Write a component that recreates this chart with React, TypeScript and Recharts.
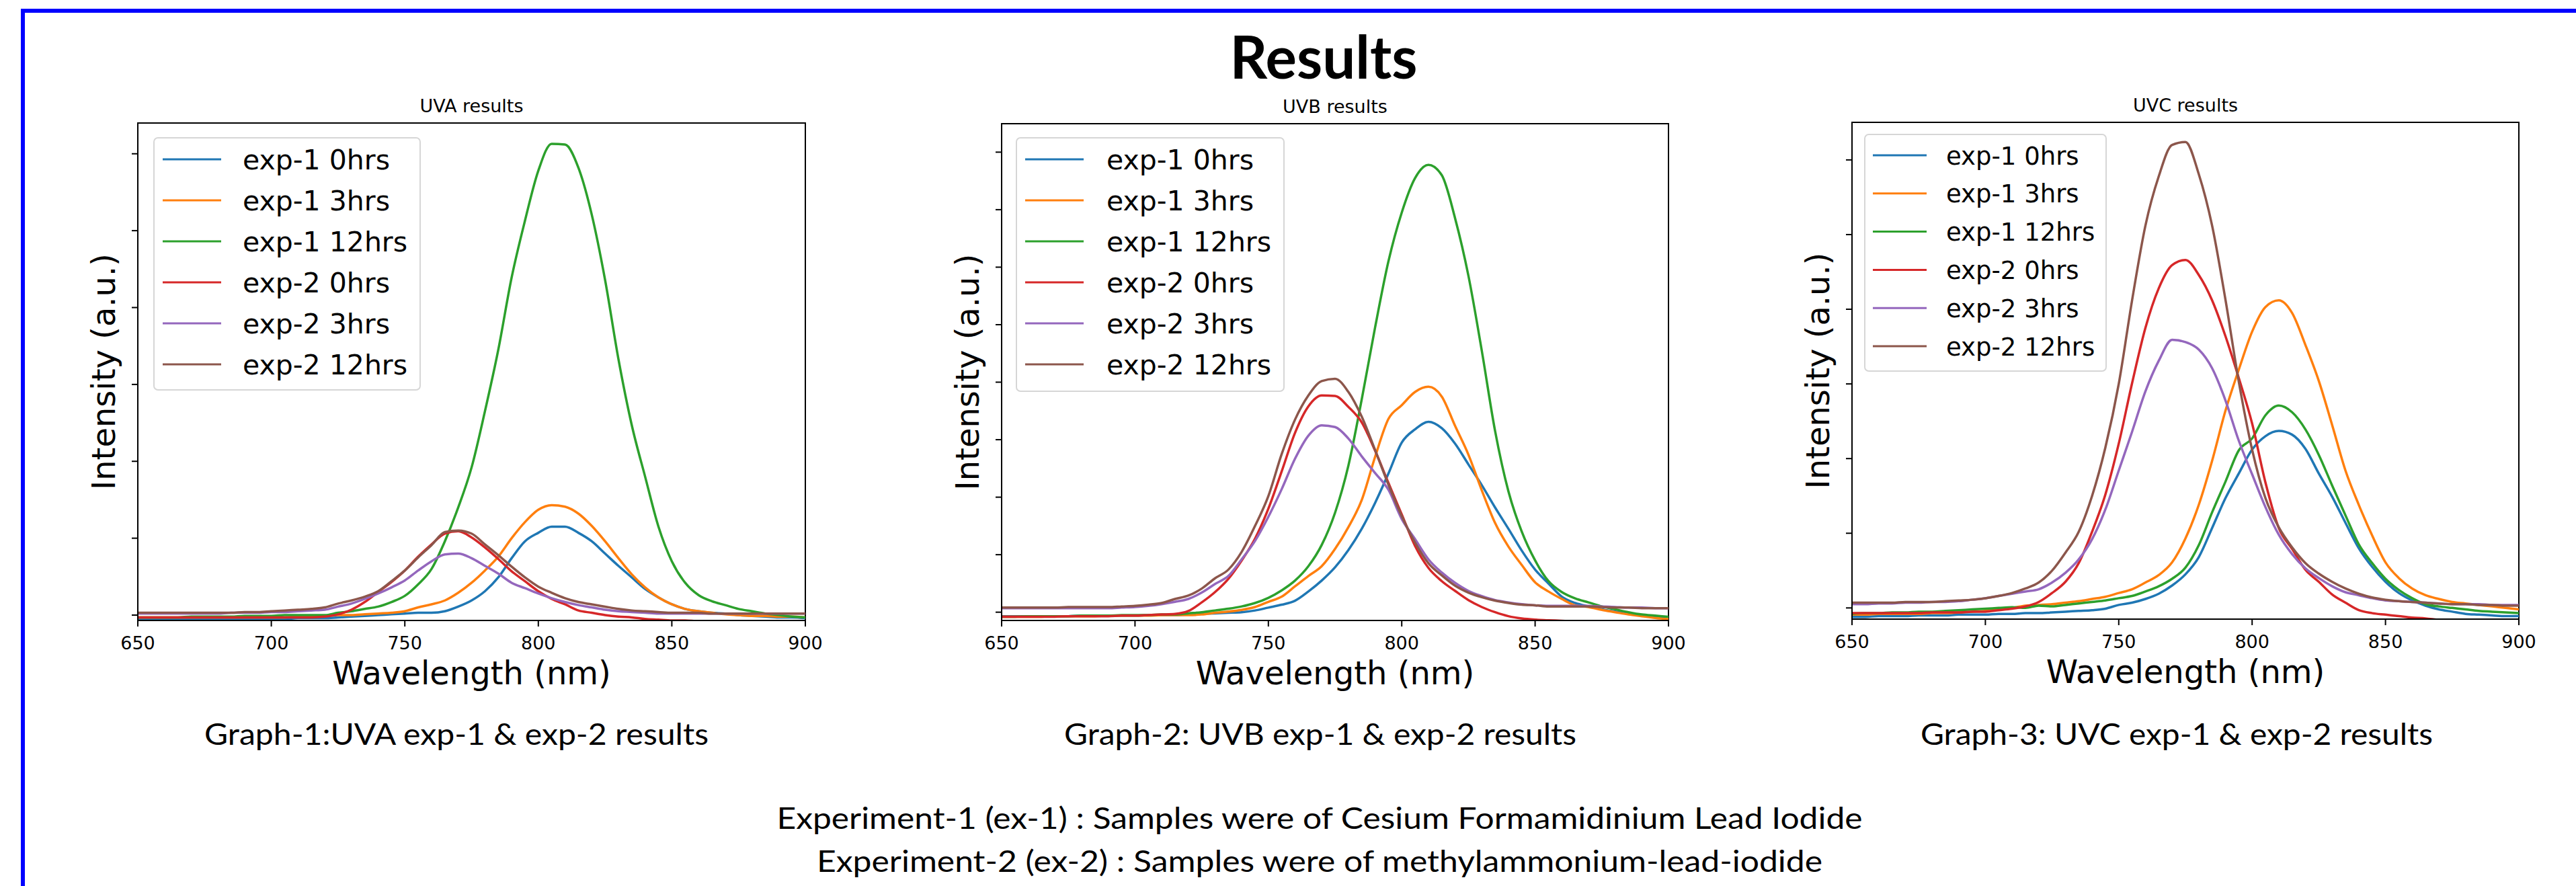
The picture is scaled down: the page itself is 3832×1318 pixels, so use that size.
import { LineChart, Line, XAxis, YAxis, ReferenceArea } from 'recharts';

// wavelength grid (nm) every 5 nm
const WAVELENGTHS = [
  650, 655, 660, 665, 670, 675, 680, 685, 690, 695,
  700, 705, 710, 715, 720, 725, 730, 735, 740, 745,
  750, 755, 760, 765, 770, 775, 780, 785, 790, 795,
  800, 805, 810, 815, 820, 825, 830, 835, 840, 845,
  850, 855, 860, 865, 870, 875, 880, 885, 890, 895,
  900,
];
const X_TICKS = [650, 700, 750, 800, 850, 900];

const SERIES_NAMES = ['exp-1 0hrs', 'exp-1 3hrs', 'exp-1 12hrs', 'exp-2 0hrs', 'exp-2 3hrs', 'exp-2 12hrs'];
const COLORS = ['#1f77b4', '#ff7f0e', '#2ca02c', '#d62728', '#9467bd', '#8c564b'];

// ---- UVA ----
const UVA_E1_0H = [
  -0.05, -0.05, -0.05, -0.05, -0.05, -0.05, -0.05, -0.05, -0.05, -0.05,
  -0.05, -0.05, -0.04, -0.04, -0.04, -0.03, -0.02, -0.01, 0.0, 0.01,
  0.02, 0.03, 0.03, 0.05, 0.11, 0.19, 0.31, 0.49, 0.74, 0.96,
  1.07, 1.15, 1.15, 1.07, 0.96, 0.8, 0.64, 0.49, 0.34, 0.23,
  0.14, 0.08, 0.05, 0.03, 0.02, 0.0, -0.01, -0.02, -0.03, -0.03,
  -0.04,
];
const UVA_E1_3H = [
  -0.03, -0.03, -0.03, -0.03, -0.03, -0.03, -0.03, -0.03, -0.03, -0.03,
  -0.03, -0.03, -0.02, -0.02, -0.01, 0.0, 0.0, 0.01, 0.02, 0.03,
  0.05, 0.1, 0.14, 0.19, 0.29, 0.42, 0.58, 0.76, 1.0, 1.21,
  1.37, 1.43, 1.41, 1.32, 1.16, 0.96, 0.74, 0.53, 0.36, 0.23,
  0.14, 0.08, 0.05, 0.03, 0.01, 0.0, -0.01, -0.01, -0.02, -0.02,
  -0.03,
];
const UVA_E1_12H = [
  -0.03, -0.03, -0.03, -0.03, -0.02, -0.02, -0.02, -0.02, -0.01, -0.01,
  -0.01, 0.0, 0.0, 0.0, 0.0, 0.03, 0.05, 0.08, 0.11, 0.17,
  0.25, 0.4, 0.6, 0.96, 1.4, 1.92, 2.65, 3.45, 4.39, 5.13,
  5.78, 6.13, 6.12, 5.82, 5.21, 4.36, 3.33, 2.47, 1.8, 1.15,
  0.7, 0.42, 0.26, 0.18, 0.13, 0.08, 0.05, 0.02, 0.0, -0.02,
  -0.03,
];
const UVA_E2_0H = [
  -0.03, -0.03, -0.03, -0.03, -0.03, -0.03, -0.03, -0.03, -0.03, -0.03,
  -0.03, -0.03, -0.03, -0.03, -0.02, 0.01, 0.07, 0.17, 0.3, 0.43,
  0.58, 0.76, 0.92, 1.06, 1.09, 1.01, 0.88, 0.73, 0.57, 0.44,
  0.31, 0.21, 0.14, 0.06, 0.03, 0.0, -0.02, -0.03, -0.05, -0.06,
  -0.07, -0.07, -0.08, -0.08, -0.08, -0.08, -0.09, -0.09, -0.09, -0.09,
  -0.09,
];
const UVA_E2_3H = [
  0.02, 0.02, 0.02, 0.02, 0.02, 0.02, 0.02, 0.03, 0.03, 0.03,
  0.04, 0.04, 0.05, 0.06, 0.07, 0.11, 0.15, 0.21, 0.28, 0.36,
  0.45, 0.58, 0.7, 0.79, 0.8, 0.74, 0.64, 0.54, 0.42, 0.35,
  0.28, 0.22, 0.17, 0.13, 0.1, 0.07, 0.05, 0.04, 0.03, 0.02,
  0.02, 0.02, 0.02, 0.02, 0.02, 0.02, 0.02, 0.02, 0.02, 0.02,
  0.02,
];
const UVA_E2_12H = [
  0.03, 0.03, 0.03, 0.03, 0.03, 0.03, 0.03, 0.03, 0.04, 0.04,
  0.05, 0.06, 0.07, 0.08, 0.1, 0.15, 0.19, 0.24, 0.31, 0.44,
  0.58, 0.75, 0.91, 1.08, 1.1, 1.06, 0.92, 0.78, 0.63, 0.49,
  0.37, 0.29, 0.22, 0.17, 0.14, 0.11, 0.08, 0.06, 0.05, 0.04,
  0.03, 0.03, 0.03, 0.02, 0.02, 0.02, 0.02, 0.02, 0.02, 0.02,
  0.02,
];

// ---- UVB ----
const UVB_E1_0H = [
  -0.07, -0.07, -0.07, -0.07, -0.07, -0.07, -0.06, -0.06, -0.06, -0.06,
  -0.06, -0.05, -0.05, -0.05, -0.04, -0.03, -0.02, -0.01, 0.0, 0.03,
  0.08, 0.13, 0.2, 0.36, 0.55, 0.78, 1.08, 1.45, 1.9, 2.41,
  2.95, 3.18, 3.31, 3.2, 2.93, 2.57, 2.21, 1.82, 1.45, 1.07,
  0.74, 0.5, 0.27, 0.16, 0.1, 0.05, 0.01, -0.02, -0.05, -0.08,
  -0.1,
];
const UVB_E1_3H = [
  -0.08, -0.08, -0.08, -0.08, -0.07, -0.07, -0.07, -0.07, -0.06, -0.06,
  -0.06, -0.06, -0.05, -0.05, -0.05, -0.04, -0.01, 0.01, 0.04, 0.09,
  0.18, 0.27, 0.45, 0.63, 0.8, 1.1, 1.48, 1.95, 2.7, 3.36,
  3.6, 3.83, 3.92, 3.75, 3.24, 2.74, 2.12, 1.55, 1.14, 0.82,
  0.52, 0.36, 0.23, 0.12, 0.09, 0.04, 0.0, -0.04, -0.07, -0.1,
  -0.12,
];
const UVB_E1_12H = [
  -0.08, -0.08, -0.07, -0.07, -0.07, -0.07, -0.06, -0.06, -0.06, -0.05,
  -0.05, -0.05, -0.04, -0.04, -0.02, 0.0, 0.03, 0.06, 0.1, 0.16,
  0.25, 0.38, 0.55, 0.8, 1.17, 1.73, 2.55, 3.7, 4.95, 6.1,
  6.95, 7.55, 7.78, 7.6, 6.85, 5.85, 4.55, 3.15, 2.1, 1.4,
  0.9, 0.54, 0.35, 0.24, 0.17, 0.1, 0.05, 0.0, -0.04, -0.06,
  -0.08,
];
const UVB_E2_0H = [
  -0.08, -0.08, -0.08, -0.08, -0.08, -0.07, -0.07, -0.07, -0.07, -0.06,
  -0.06, -0.05, -0.04, -0.03, 0.02, 0.17, 0.35, 0.58, 0.9, 1.28,
  1.8, 2.45, 3.12, 3.58, 3.77, 3.76, 3.57, 3.3, 2.81, 2.25,
  1.7, 1.15, 0.77, 0.54, 0.37, 0.21, 0.09, 0.0, -0.07, -0.11,
  -0.13, -0.14, -0.15, -0.16, -0.17, -0.17, -0.18, -0.18, -0.18, -0.18,
  -0.18,
];
const UVB_E2_3H = [
  0.07, 0.07, 0.07, 0.07, 0.07, 0.07, 0.07, 0.07, 0.07, 0.08,
  0.09, 0.11, 0.14, 0.18, 0.23, 0.34, 0.49, 0.63, 0.92, 1.24,
  1.66, 2.14, 2.67, 3.07, 3.25, 3.22, 3.02, 2.71, 2.42, 2.13,
  1.62, 1.27, 0.92, 0.69, 0.51, 0.37, 0.28, 0.21, 0.17, 0.14,
  0.12, 0.11, 0.11, 0.11, 0.11, 0.1, 0.09, 0.08, 0.08, 0.07,
  0.07,
];
const UVB_E2_12H = [
  0.08, 0.08, 0.08, 0.08, 0.08, 0.09, 0.09, 0.09, 0.09, 0.1,
  0.11, 0.13, 0.16, 0.23, 0.29, 0.41, 0.59, 0.74, 1.05, 1.5,
  2.02, 2.75, 3.35, 3.77, 4.02, 4.06, 3.83, 3.4, 2.82, 2.22,
  1.67, 1.21, 0.85, 0.64, 0.46, 0.34, 0.26, 0.2, 0.16, 0.13,
  0.12, 0.1, 0.1, 0.1, 0.1, 0.09, 0.08, 0.08, 0.07, 0.07,
  0.07,
];

// ---- UVC ----
const UVC_E1_0H = [
  -0.12, -0.12, -0.11, -0.11, -0.11, -0.1, -0.1, -0.1, -0.09, -0.09,
  -0.09, -0.08, -0.08, -0.07, -0.07, -0.06, -0.05, -0.04, -0.03, -0.01,
  0.04, 0.07, 0.12, 0.19, 0.3, 0.45, 0.68, 1.07, 1.47, 1.8,
  2.12, 2.3, 2.37, 2.32, 2.13, 1.8, 1.49, 1.14, 0.8, 0.55,
  0.35, 0.2, 0.1, 0.03, -0.02, -0.05, -0.08, -0.09, -0.1, -0.11,
  -0.11,
];
const UVC_E1_3H = [
  -0.09, -0.09, -0.08, -0.08, -0.08, -0.08, -0.07, -0.07, -0.06, -0.05,
  -0.04, -0.02, 0.0, 0.03, 0.04, 0.05, 0.07, 0.09, 0.12, 0.15,
  0.2, 0.25, 0.34, 0.44, 0.61, 0.93, 1.38, 1.97, 2.64, 3.19,
  3.7, 4.03, 4.12, 3.95, 3.52, 3.04, 2.45, 1.84, 1.38, 0.97,
  0.61, 0.4, 0.26, 0.17, 0.12, 0.08, 0.06, 0.04, 0.02, 0.0,
  -0.02,
];
const UVC_E1_12H = [
  -0.08, -0.07, -0.07, -0.06, -0.06, -0.05, -0.05, -0.04, -0.03, -0.02,
  -0.01, 0.0, 0.01, 0.0, 0.03, 0.02, 0.04, 0.06, 0.08, 0.1,
  0.13, 0.16, 0.22, 0.29, 0.39, 0.54, 0.84, 1.28, 1.69, 2.11,
  2.27, 2.58, 2.71, 2.62, 2.39, 2.05, 1.64, 1.24, 0.85, 0.6,
  0.39, 0.24, 0.13, 0.05, 0.02, 0.0, -0.02, -0.04, -0.05, -0.06,
  -0.07,
];
const UVC_E2_0H = [
  -0.07, -0.07, -0.07, -0.07, -0.07, -0.07, -0.06, -0.06, -0.06, -0.05,
  -0.05, -0.03, -0.01, 0.02, 0.08, 0.2, 0.35, 0.6, 1.02, 1.52,
  2.2, 3.01, 3.75, 4.28, 4.59, 4.66, 4.46, 4.12, 3.64, 3.08,
  2.47, 1.68, 1.07, 0.79, 0.51, 0.35, 0.18, 0.07, -0.03, -0.07,
  -0.09, -0.11, -0.13, -0.14, -0.16, -0.17, -0.17, -0.18, -0.18, -0.18,
  -0.18,
];
const UVC_E2_3H = [
  0.05, 0.05, 0.06, 0.06, 0.07, 0.07, 0.08, 0.08, 0.09, 0.11,
  0.13, 0.16, 0.19, 0.22, 0.25, 0.34, 0.47, 0.65, 0.92, 1.32,
  1.84, 2.36, 2.9, 3.31, 3.59, 3.56, 3.46, 3.21, 2.78, 2.24,
  1.79, 1.35, 0.98, 0.72, 0.53, 0.4, 0.29, 0.21, 0.17, 0.13,
  0.1, 0.09, 0.08, 0.07, 0.06, 0.05, 0.05, 0.05, 0.04, 0.04,
  0.04,
];
const UVC_E2_12H = [
  0.07, 0.07, 0.07, 0.07, 0.08, 0.08, 0.08, 0.09, 0.1, 0.11,
  0.13, 0.16, 0.2, 0.26, 0.34, 0.5, 0.74, 1.02, 1.5, 2.15,
  3.0, 4.12, 5.12, 5.78, 6.2, 6.24, 5.81, 5.12, 4.13, 3.03,
  2.12, 1.47, 1.08, 0.81, 0.6, 0.46, 0.35, 0.26, 0.19, 0.14,
  0.11, 0.09, 0.08, 0.07, 0.06, 0.05, 0.05, 0.04, 0.04, 0.03,
  0.03,
];

const MPL_FONT = "'DejaVu Sans', sans-serif";
const SLIDE_FONT = "Lato, 'Open Sans', sans-serif";

const PANELS = [
  {
    title: 'UVA results',
    caption: 'Graph-1:UVA exp-1 & exp-2 results',
    series: [UVA_E1_0H, UVA_E1_3H, UVA_E1_12H, UVA_E2_0H, UVA_E2_3H, UVA_E2_12H],
    yDomain: [-0.07, 6.4],
    yTicks: [0, 1, 2, 3, 4, 5, 6],
    plot: { left: 205, top: 183, width: 993, height: 740 },
    legend: { dx: 24, dy: 22, w: 396, h: 375, font: 41, row0: 32, gap: 61, s0: 13, s1: 100, tx: 132 },
    captionBox: { cx: 679, w: 750 },
  },
  {
    title: 'UVB results',
    caption: 'Graph-2: UVB exp-1 & exp-2 results',
    series: [UVB_E1_0H, UVB_E1_3H, UVB_E1_12H, UVB_E2_0H, UVB_E2_3H, UVB_E2_12H],
    yDomain: [-0.144, 8.495],
    yTicks: [0, 1, 2, 3, 4, 5, 6, 7, 8],
    plot: { left: 1490, top: 184, width: 992, height: 739 },
    legend: { dx: 22, dy: 21, w: 398, h: 377, font: 41, row0: 32, gap: 61, s0: 13, s1: 100, tx: 134 },
    captionBox: { cx: 1964, w: 762 },
  },
  {
    title: 'UVC results',
    caption: 'Graph-3: UVC exp-1 & exp-2 results',
    series: [UVC_E1_0H, UVC_E1_3H, UVC_E1_12H, UVC_E2_0H, UVC_E2_3H, UVC_E2_12H],
    yDomain: [-0.15, 6.503],
    yTicks: [0, 1, 2, 3, 4, 5, 6],
    plot: { left: 2755, top: 182, width: 992, height: 739 },
    legend: { dx: 19, dy: 18, w: 359, h: 352, font: 37, row0: 31, gap: 56.8, s0: 12, s1: 92, tx: 121 },
    captionBox: { cx: 3238, w: 762 },
  },
];

const M_LEFT = 120;
const M_TOP = 60;
const M_RIGHT = 40;
const X_AXIS_H = 60;

// y ticks carry no labels in the original, only the marks
const NoLabel = () => <g />;

function SpectrumPanel({ p }: { p: any }) {
  const { plot } = p;
  const rows = WAVELENGTHS.map((wl, i) => {
    const row: Record<string, number> = { wl };
    p.series.forEach((s: number[], k: number) => {
      row[`s${k}`] = s[i];
    });
    return row;
  });
  const axisStyle = { stroke: '#000', strokeWidth: 2 };

  return (
    <div style={{ position: 'absolute', left: plot.left - M_LEFT, top: plot.top - M_TOP }}>
      <LineChart
        width={M_LEFT + plot.width + M_RIGHT}
        height={M_TOP + plot.height + X_AXIS_H}
        data={rows}
        margin={{ top: M_TOP, right: M_RIGHT, bottom: 0, left: 0 }}
      >
        <XAxis
          dataKey="wl"
          type="number"
          domain={[650, 900]}
          ticks={X_TICKS}
          interval={0}
          allowDataOverflow
          height={X_AXIS_H}
          tickSize={9}
          tickMargin={15}
          axisLine={axisStyle}
          tickLine={axisStyle}
          tick={{ fontSize: 27, fill: '#000', fontFamily: MPL_FONT }}
        />
        <YAxis
          type="number"
          domain={p.yDomain}
          ticks={p.yTicks}
          interval={0}
          allowDataOverflow
          width={M_LEFT}
          tickSize={9}
          tick={NoLabel}
          axisLine={axisStyle}
          tickLine={axisStyle}
        />
        <ReferenceArea
          x1={650}
          x2={900}
          y1={p.yDomain[0]}
          y2={p.yDomain[1]}
          fill="none"
          fillOpacity={0}
          stroke="#000"
          strokeWidth={2}
          ifOverflow="visible"
        />
        {p.series.map((_: number[], k: number) => (
          <Line
            key={k}
            type="monotone"
            dataKey={`s${k}`}
            name={SERIES_NAMES[k]}
            stroke={COLORS[k]}
            strokeWidth={3.5}
            strokeLinejoin="round"
            dot={false}
            activeDot={false}
            isAnimationActive={false}
          />
        ))}
      </LineChart>
    </div>
  );
}

export default function App() {
  return (
    <div style={{ position: 'absolute', left: 0, top: 0, width: 3832, height: 1318, background: '#fff', overflow: 'hidden' }}>
      {/* slide frame: only top and left edges are visible */}
      <div
        style={{
          position: 'absolute',
          left: 31,
          top: 13,
          width: 3840,
          height: 1340,
          borderLeft: '6px solid #0000ff',
          borderTop: '6px solid #0000ff',
        }}
      />

      {PANELS.map((p, i) => (
        <SpectrumPanel key={i} p={p} />
      ))}

      <svg width={3832} height={1318} style={{ position: 'absolute', left: 0, top: 0 }}>
        <text
          x={1969}
          y={117}
          textAnchor="middle"
          fontFamily={SLIDE_FONT}
          fontWeight={700}
          fontSize={88}
          textLength={279}
          lengthAdjust="spacingAndGlyphs"
          fill="#000"
        >
          Results
        </text>

        {PANELS.map((p, i) => {
          const { plot, legend: lg } = p;
          const cx = plot.left + plot.width / 2;
          const cy = plot.top + plot.height / 2;
          const bx = plot.left + lg.dx;
          const by = plot.top + lg.dy;
          return (
            <g key={i}>
              <text x={cx} y={plot.top - 16} textAnchor="middle" fontFamily={MPL_FONT} fontSize={27} fill="#000">
                {p.title}
              </text>
              <text
                transform={`translate(${plot.left - 34}, ${cy}) rotate(-90)`}
                textAnchor="middle"
                fontFamily={MPL_FONT}
                fontSize={48}
                fill="#000"
              >
                Intensity (a.u.)
              </text>
              <text x={cx} y={plot.top + plot.height + 95} textAnchor="middle" fontFamily={MPL_FONT} fontSize={48} fill="#000">
                Wavelength (nm)
              </text>

              <rect
                x={bx}
                y={by}
                width={lg.w}
                height={lg.h}
                rx={6}
                fill="rgba(255,255,255,0.8)"
                stroke="#d6d6d6"
                strokeWidth={2}
              />
              {SERIES_NAMES.map((name, k) => {
                const ry = by + lg.row0 + k * lg.gap;
                return (
                  <g key={k}>
                    <line x1={bx + lg.s0} x2={bx + lg.s1} y1={ry} y2={ry} stroke={COLORS[k]} strokeWidth={3} />
                    <text x={bx + lg.tx} y={ry + lg.font * 0.365} fontFamily={MPL_FONT} fontSize={lg.font} fill="#000">
                      {name}
                    </text>
                  </g>
                );
              })}

              <text
                x={p.captionBox.cx}
                y={1108}
                textAnchor="middle"
                fontFamily={SLIDE_FONT}
                fontSize={45}
                textLength={p.captionBox.w}
                lengthAdjust="spacingAndGlyphs"
                fill="#000"
              >
                {p.caption}
              </text>
            </g>
          );
        })}

        <text
          x={1963}
          y={1233}
          textAnchor="middle"
          fontFamily={SLIDE_FONT}
          fontSize={45}
          textLength={1615}
          lengthAdjust="spacingAndGlyphs"
          fill="#000"
        >
          Experiment-1 (ex-1) : Samples were of Cesium Formamidinium Lead Iodide
        </text>
        <text
          x={1963}
          y={1297}
          textAnchor="middle"
          fontFamily={SLIDE_FONT}
          fontSize={45}
          textLength={1496}
          lengthAdjust="spacingAndGlyphs"
          fill="#000"
        >
          Experiment-2 (ex-2) : Samples were of methylammonium-lead-iodide
        </text>
      </svg>
    </div>
  );
}
